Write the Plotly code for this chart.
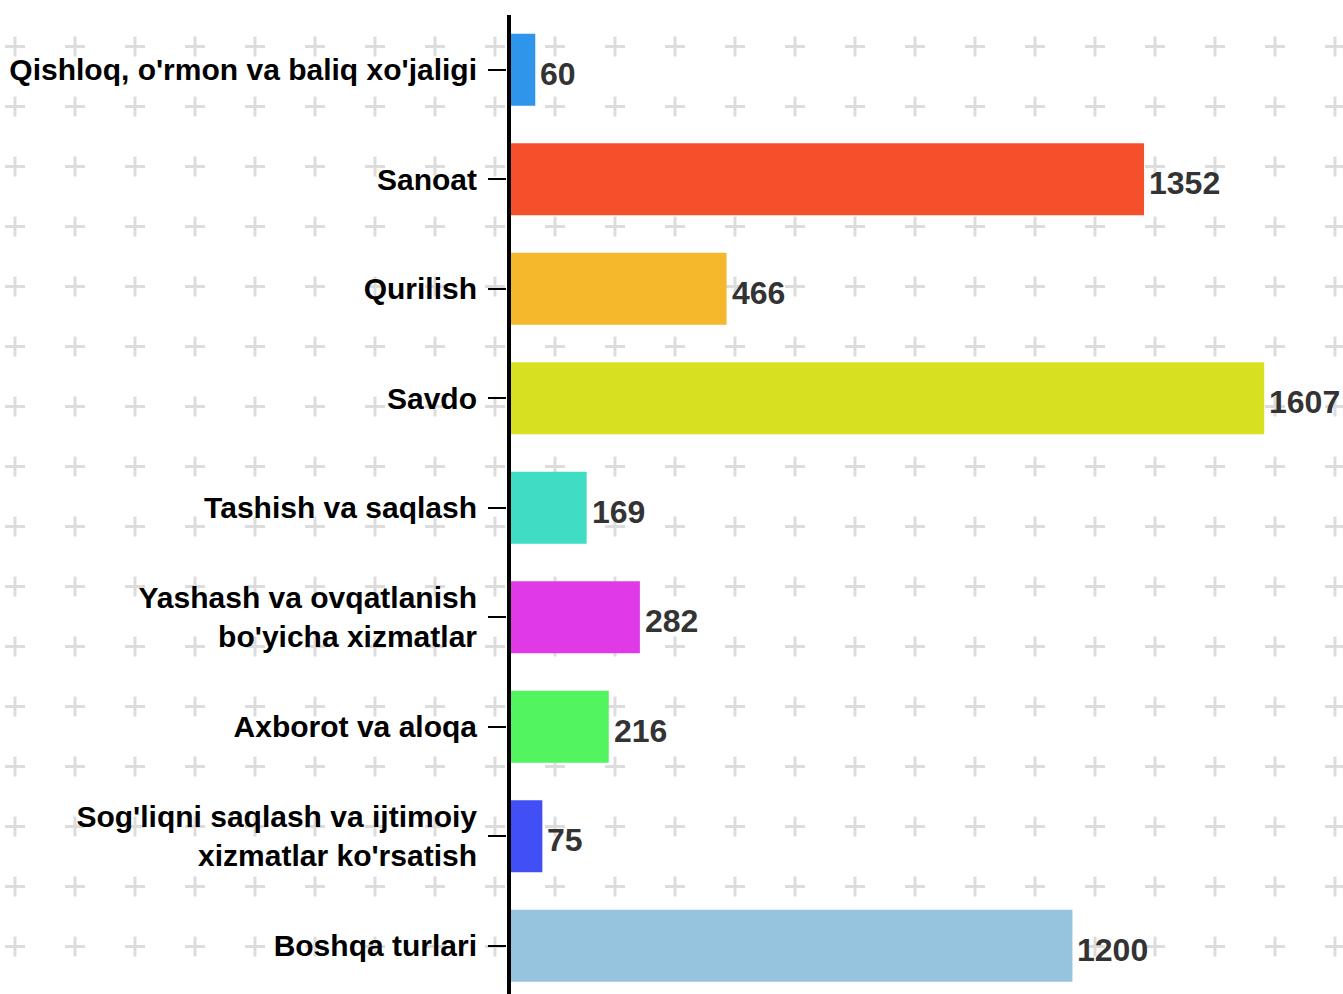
import base64
import plotly.graph_objects as go

# Sector names and their values
categories = [
    "Qishloq, o'rmon va baliq xo'jaligi",
    "Sanoat",
    "Qurilish",
    "Savdo",
    "Tashish va saqlash",
    "Yashash va ovqatlanish<br>bo'yicha xizmatlar",
    "Axborot va aloqa",
    "Sog'liqni saqlash va ijtimoiy<br>xizmatlar ko'rsatish",
    "Boshqa turlari",
]
values = [60, 1352, 466, 1607, 169, 282, 216, 75, 1200]
bar_colors = [
    "#2F95EA", "#F5502C", "#F5B82C", "#D8E022", "#3EDDC4",
    "#E03AE8", "#52F560", "#4050F5", "#96C3DE",
]

W, H = 1343, 994
M_L, M_R, M_T, M_B = 507, 0, 15, 0
PW, PH = W - M_L - M_R, H - M_T - M_B

# Light "+" pattern used as the page background
svg = f"""<svg xmlns='http://www.w3.org/2000/svg' width='{W}' height='{H}' viewBox='0 0 {W} {H}'>
<defs>
<filter id='soft'><feGaussianBlur stdDeviation='0.6'/></filter>
<pattern id='plus' x='0' y='0' width='60' height='60' patternUnits='userSpaceOnUse'>
<g stroke='#dcdcdc' stroke-width='3' filter='url(#soft)'>
<line x1='5' y1='46.5' x2='25' y2='46.5'/>
<line x1='15' y1='36.5' x2='15' y2='56.5'/>
</g>
</pattern>
</defs>
<rect width='{W}' height='{H}' fill='url(#plus)'/>
</svg>"""
bg_src = "data:image/svg+xml;base64," + base64.b64encode(svg.encode()).decode()

fig = go.Figure(
    go.Bar(
        x=values,
        y=categories,
        orientation="h",
        marker=dict(color=bar_colors, line=dict(width=0)),
        hoverinfo="x+y",
    )
)

# Value labels beside each bar
for cat, val in zip(categories, values):
    fig.add_annotation(
        x=val, y=cat, text=f"<b>{val}</b>", showarrow=False,
        xanchor="left", yanchor="middle", xshift=3, yshift=-4,
        font=dict(family="Liberation Sans, Arial, sans-serif", size=32, color="#333333"),
    )

fig.add_layout_image(
    source=bg_src, xref="paper", yref="paper",
    x=-M_L / PW, y=1 + M_T / PH, sizex=W / PW, sizey=H / PH,
    xanchor="left", yanchor="top", sizing="stretch", layer="below",
)

# Vertical axis line drawn over the bar bases
fig.add_shape(
    type="line", xref="paper", yref="paper",
    x0=2 / PW, x1=2 / PW, y0=0, y1=1,
    line=dict(color="black", width=4), layer="above",
)

fig.update_layout(
    width=W, height=H,
    margin=dict(l=M_L, r=M_R, t=M_T, b=M_B, pad=0),
    paper_bgcolor="white",
    plot_bgcolor="rgba(0,0,0,0)",
    bargap=0.342,
    showlegend=False,
    xaxis=dict(range=[0, PW / 0.4712], visible=False, fixedrange=True),
    yaxis=dict(
        categoryorder="array", categoryarray=categories,
        range=[PH / 109.5 - 0.5, -0.5],
        showline=False,
        ticks="outside", ticklen=18, tickwidth=2, tickcolor="black",
        ticklabelstandoff=5,
        tickfont=dict(family="Liberation Sans, Arial, sans-serif", size=30,
                      color="black", weight="bold"),
        showgrid=False, zeroline=False, fixedrange=True,
    ),
)

fig.write_html("out.html")
